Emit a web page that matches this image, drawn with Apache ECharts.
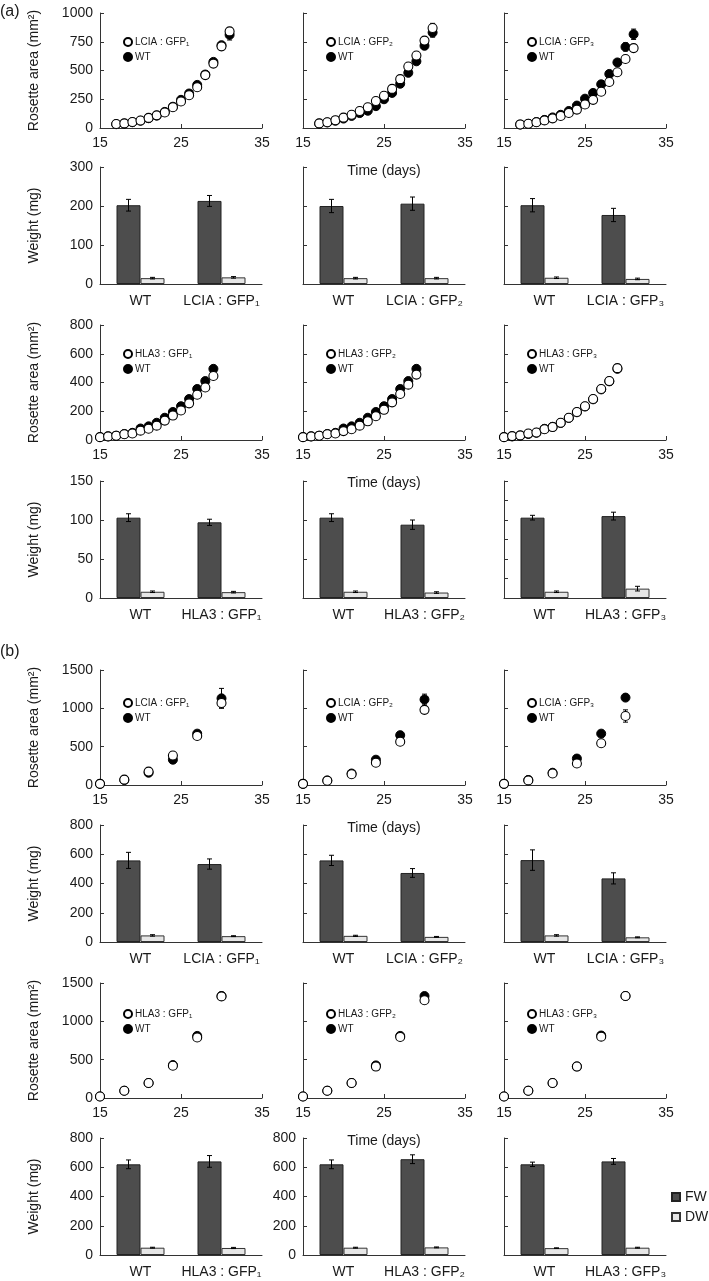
<!DOCTYPE html>
<html><head><meta charset="utf-8">
<script src="https://cdn.jsdelivr.net/npm/echarts/dist/echarts.min.js"></script>
<style>html,body{margin:0;padding:0;background:#fff}#c{width:709px;height:1281px}</style>
</head><body><div id="c"></div><script>
// ---------- DATA ----------
const daysA_LCIA = [17,18,19,20,21,22,23,24,25,26,27,28,29,30,31];
const daysA_HLA  = [15,16,17,18,19,20,21,22,23,24,25,26,27,28,29];
const daysB      = [15,18,21,24,27,30];

// (a) LCIA rosette area
const aL1gfp  = [35,40,52,65,88,110,135,180,230,285,355,460,560,710,840];
const aL1gfpE = [3,3,4,4,5,6,7,9,10,12,15,18,20,30,25];
const aL1wt   = [33,38,50,63,85,108,140,185,245,300,375,465,575,720,810];
const aL1wtE  = [3,3,4,4,5,6,7,8,10,12,14,16,20,25,45];
const aL2gfp  = [40,50,68,90,115,148,180,235,280,340,425,535,630,760,870];
const aL2gfpE = [3,3,4,5,6,7,8,10,12,14,18,22,28,35,40];
const aL2wt   = [38,48,63,82,105,130,150,190,250,305,385,480,580,715,830];
const aL2wtE  = [3,3,4,5,6,7,8,10,12,14,16,20,25,30,40];
const aL3gfp  = [31,37,50,66,84,105,130,160,205,245,315,400,485,600,695];
const aL3gfpE = [2,3,3,4,5,6,7,8,10,12,14,16,20,25,30];
const aL3wt   = [30,36,52,70,92,115,148,195,255,305,380,470,570,705,815];
const aL3wtE  = [2,3,4,5,6,7,8,10,12,14,16,20,25,35,45];

// (a) HLA3 rosette area
const aH1gfp  = [20,25,30,40,45,65,78,100,135,170,205,255,315,365,445];
const aH1wt   = [20,25,30,42,50,80,95,120,155,195,235,285,355,410,495];
const aH2gfp  = [20,25,30,40,45,62,75,100,130,165,210,262,320,385,455];
const aH2wt   = [20,25,30,42,50,80,95,120,155,195,235,285,355,410,495];
const aH3gfp  = [20,27,32,45,52,75,90,120,155,195,235,285,355,410,500];
const aH3wt   = [20,25,30,42,50,78,92,118,153,193,233,283,352,408,495];
const aHerr   = [1,1,2,2,2,3,3,4,5,6,7,8,10,12,14];

// (b) LCIA rosette area
const bL1gfp = [15,70,175,385,640,1070];  const bL1gfpE = [3,8,15,20,30,60];
const bL1wt  = [15,65,160,330,670,1130];  const bL1wtE  = [3,8,15,20,40,130];
const bL2gfp = [15,55,140,290,565,980];   const bL2gfpE = [3,6,12,20,25,35];
const bL2wt  = [15,60,150,330,650,1115];  const bL2wtE  = [3,6,15,20,30,70];
const bL3gfp = [15,60,150,280,545,900];   const bL3gfpE = [3,6,12,18,30,80];
const bL3wt  = [15,65,160,345,670,1140];  const bL3wtE  = [3,6,12,20,25,30];

// (b) HLA3 rosette area
const bH1gfp = [20,95,195,420,790,1325];  const bH1gfpE = [3,6,10,20,25,40];
const bH1wt  = [20,95,195,430,810,1330];  const bH1wtE  = [3,6,10,15,25,30];
const bH2gfp = [20,95,195,410,795,1275];  const bH2gfpE = [3,6,10,18,25,30];
const bH2wt  = [20,95,195,425,810,1330];  const bH2wtE  = [3,6,10,15,25,30];
const bH3gfp = [20,95,195,410,800,1330];  const bH3gfpE = [3,6,10,15,20,25];
const bH3wt  = [20,95,195,412,815,1330];  const bH3wtE  = [3,6,10,15,20,25];

// Bar data (weights): [WT, line]
const catsL = ['LCIA : GFP₁','LCIA : GFP₂','LCIA : GFP₃'];
const catsH = ['HLA3 : GFP₁','HLA3 : GFP₂','HLA3 : GFP₃'];
const aLfw = [[202,213],[200,206],[202,177]];  const aLfwE = [[15,14],[17,17],[17,17]];
const aLdw = [[15,17],[15,15],[16,13]];        const aLdwE = [[2,2],[2,2],[2,2]];
const aHfw = [[103,97],[103,94],[103,105]];    const aHfwE = [[5,4],[5,6],[3,5]];
const aHdw = [[8,7.5],[8,7],[8,12]];           const aHdwE = [[1,1],[1,1],[1,3]];
const bLfw = [[558,533],[558,472],[560,435]];  const bLfwE = [[55,35],[35,30],[70,38]];
const bLdw = [[45,40],[42,35],[45,32]];        const bLdwE = [[5,3],[4,3],[5,3]];
const bHfw = [[620,640],[620,655],[620,640]];  const bHfwE = [[30,40],[30,30],[15,20]];
const bHdw = [[50,48],[50,52],[47,50]];        const bHdwE = [[3,4],[3,3],[2,3]];

// ---------- LAYOUT ----------
const F = 'Liberation Sans, Arial, sans-serif';
const TXT = '#1a1a1a', AX = '#333';
const COL_LEFT = [100, 303, 504];
const PANEL_W = 162;
const grids=[], xAxes=[], yAxes=[], series=[], legends=[];
const plain = v => String(v);

function errSeries(i, xs, ys, es, z, off) {
  return {type:'custom', xAxisIndex:i, yAxisIndex:i, z:z, silent:true,
    data: xs.map((x,k)=>[x, ys[k], es[k]]),
    renderItem: function(params, api){
      const x=api.value(0), y=api.value(1), e=api.value(2);
      const hi=api.coord([x,y+e]), lo=api.coord([x,y-e]);
      const dx = off||0, c=2.5;
      const st={stroke:'#000',lineWidth:1};
      return {type:'group', children:[
        {type:'line', shape:{x1:hi[0]+dx,y1:hi[1],x2:lo[0]+dx,y2:lo[1]}, style:st},
        {type:'line', shape:{x1:hi[0]+dx-c,y1:hi[1],x2:hi[0]+dx+c,y2:hi[1]}, style:st},
        {type:'line', shape:{x1:lo[0]+dx-c,y1:lo[1],x2:lo[0]+dx+c,y2:lo[1]}, style:st}
      ]};
    }};
}

function yAxisCfg(i, ymax, yint, showLabels, name) {
  return {gridIndex:i, type:'value', min:0, max:ymax, interval:yint,
    axisLine:{show:true, lineStyle:{color:AX, width:1}},
    axisTick:{show:true, inside:true, length:4, lineStyle:{color:AX}},
    axisLabel:{show:showLabels, fontSize:14, color:TXT, margin:7, fontFamily:F, formatter:plain},
    splitLine:{show:false},
    name: name||'', nameLocation:'middle', nameGap:59, nameRotate:90,
    nameTextStyle:{fontSize:14, color:TXT, fontFamily:F}};
}

function addScatter(col, top, height, ymax, yint, days, gfp, gfpE, wt, wtE, gfpName, legOff) {
  const i = grids.length;
  grids.push({left:COL_LEFT[col], top:top, width:PANEL_W, height:height});
  xAxes.push({gridIndex:i, type:'value', min:15, max:35, interval:10,
    axisLine:{show:true, onZero:false, lineStyle:{color:AX, width:1}},
    axisTick:{show:true, inside:true, length:4, lineStyle:{color:AX}},
    axisLabel:{fontSize:14, color:TXT, margin:8, fontFamily:F, formatter:plain},
    splitLine:{show:false},
    name: col===1 ? 'Time (days)' : '', nameLocation:'middle', nameGap:36,
    nameTextStyle:{fontSize:14, color:TXT, fontFamily:F}});
  yAxes.push(yAxisCfg(i, ymax, yint, col===0, col===0 ? 'Rosette area (mm²)' : ''));
  series.push(errSeries(i, days, wt, wtE, 2));
  series.push({type:'scatter', name:'WT', xAxisIndex:i, yAxisIndex:i, z:3, silent:true,
    data: days.map((d,k)=>[d, wt[k]]), symbol:'circle', symbolSize:9,
    itemStyle:{color:'#000', borderColor:'#000', borderWidth:1, opacity:1}});
  series.push(errSeries(i, days, gfp, gfpE, 4));
  series.push({type:'scatter', name:gfpName, xAxisIndex:i, yAxisIndex:i, z:5, silent:true,
    data: days.map((d,k)=>[d, gfp[k]]), symbol:'circle', symbolSize:9,
    itemStyle:{color:'#fff', borderColor:'#000', borderWidth:1.1, opacity:1}});
  legends.push({data:[gfpName,'WT'], orient:'vertical', left:COL_LEFT[col]+18, top:top+legOff,
    icon:'circle', itemWidth:8, itemHeight:8, itemGap:5, selectedMode:false,
    textStyle:{fontSize:10, color:TXT, fontFamily:F, padding:[0,0,0,-2]}});
}

function addBar(col, top, height, ymax, yint, cats, fw, fwE, dw, dwE, showLabels, name) {
  const i = grids.length;
  grids.push({left:COL_LEFT[col], top:top, width:PANEL_W, height:height});
  xAxes.push({gridIndex:i, type:'category', data:cats,
    axisLine:{show:true, lineStyle:{color:AX, width:1}},
    axisTick:{show:false},
    axisLabel:{fontSize:14, color:TXT, margin:10, fontFamily:F, interval:0}});
  yAxes.push(yAxisCfg(i, ymax, yint, showLabels, name));
  series.push({type:'bar', name:'FW', xAxisIndex:i, yAxisIndex:i, data:fw, barWidth:24, barGap:'0%', silent:true,
    itemStyle:{color:'#4d4d4d', borderColor:'#222', borderWidth:1}});
  series.push({type:'bar', name:'DW', xAxisIndex:i, yAxisIndex:i, data:dw, barWidth:24, barGap:'0%', silent:true,
    itemStyle:{color:'#e6e6e6', borderColor:'#333', borderWidth:1}});
  series.push(errSeries(i, [0,1], fw, fwE, 6, -12));
  series.push(errSeries(i, [0,1], dw, dwE, 6, 12));
}

const aLgfp=[aL1gfp,aL2gfp,aL3gfp], aLgfpE=[aL1gfpE,aL2gfpE,aL3gfpE], aLwt=[aL1wt,aL2wt,aL3wt], aLwtE=[aL1wtE,aL2wtE,aL3wtE];
const aHgfp=[aH1gfp,aH2gfp,aH3gfp], aHwt=[aH1wt,aH2wt,aH3wt];
const bLgfp=[bL1gfp,bL2gfp,bL3gfp], bLgfpE=[bL1gfpE,bL2gfpE,bL3gfpE], bLwt=[bL1wt,bL2wt,bL3wt], bLwtE=[bL1wtE,bL2wtE,bL3wtE];
const bHgfp=[bH1gfp,bH2gfp,bH3gfp], bHgfpE=[bH1gfpE,bH2gfpE,bH3gfpE], bHwt=[bH1wt,bH2wt,bH3wt], bHwtE=[bH1wtE,bH2wtE,bH3wtE];

for (let c=0;c<3;c++) {
  addScatter(c, 13, 115, 1000, 250, daysA_LCIA, aLgfp[c], aLgfpE[c], aLwt[c], aLwtE[c], catsL[c], 19);
  addBar(c, 167, 117, 300, 100, ['WT', catsL[c]], aLfw[c], aLfwE[c], aLdw[c], aLdwE[c], c===0, c===0?'Weight (mg)':'');
  addScatter(c, 325, 115, 800, 200, daysA_HLA, aHgfp[c], aHerr, aHwt[c], aHerr, catsH[c], 19);
  addBar(c, 481, 117, 150, c===2?25:50, ['WT', catsH[c]], aHfw[c], aHfwE[c], aHdw[c], aHdwE[c], c===0, c===0?'Weight (mg)':'');
  addScatter(c, 670, 115, 1500, 500, daysB, bLgfp[c], bLgfpE[c], bLwt[c], bLwtE[c], catsL[c], 23);
  addBar(c, 825, 117, 800, 200, ['WT', catsL[c]], bLfw[c], bLfwE[c], bLdw[c], bLdwE[c], c===0, c===0?'Weight (mg)':'');
  addScatter(c, 983, 115, 1500, 500, daysB, bHgfp[c], bHgfpE[c], bHwt[c], bHwtE[c], catsH[c], 21);
  addBar(c, 1138, 117, 800, 200, ['WT', catsH[c]], bHfw[c], bHfwE[c], bHdw[c], bHdwE[c], c<2, c===0?'Weight (mg)':'');
}

legends.push({data:['FW','DW'], orient:'vertical', left:671, top:1190, padding:0, icon:'rect',
  itemWidth:8, itemHeight:8, itemGap:6, selectedMode:false,
  textStyle:{fontSize:14, color:TXT, fontFamily:F}});

const chart = echarts.init(document.getElementById('c'), null, {renderer:'canvas'});
chart.setOption({
  animation:false,
  backgroundColor:'#fff',
  textStyle:{fontFamily:F},
  grid:grids, xAxis:xAxes, yAxis:yAxes, series:series, legend:legends,
  graphic:[
    {type:'text', left:0, top:4, style:{text:'(a)', fontSize:16, fill:TXT, fontFamily:F}},
    {type:'text', left:0, top:644, style:{text:'(b)', fontSize:16, fill:TXT, fontFamily:F}}
  ]
});
</script></body></html>
